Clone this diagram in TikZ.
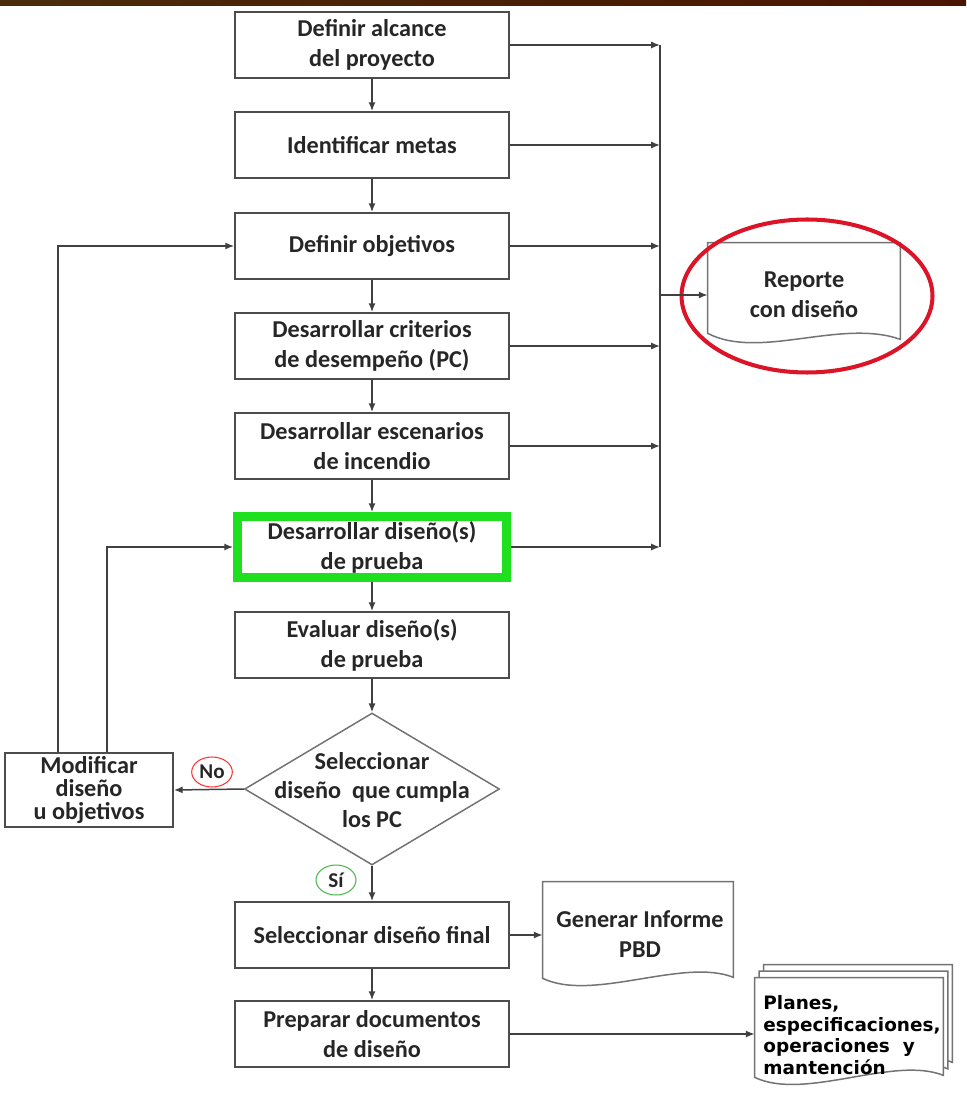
\documentclass[tikz,border=0pt]{standalone}
\usepackage{fontspec}
\setmainfont{Carlito}
\newfontfamily\planfont{DejaVu Sans}
\usetikzlibrary{shapes.geometric,arrows.meta,calc}

\definecolor{barleft}{HTML}{4A2C0A}
\definecolor{barright}{HTML}{4A1402}
\definecolor{boxgreen}{HTML}{1EE01E}
\definecolor{ringred}{HTML}{DC1428}

\tikzset{
  stepbox/.style={draw=black!70, line width=1pt, fill=white, minimum width=5.48cm,
    minimum height=1.32cm, align=center, inner sep=1pt, text=black!85,
    font=\bfseries\fontsize{13.8}{17}\selectfont},
  flow/.style={draw=black!75, line width=0.85pt, -{Latex[length=5pt,width=4pt]}},
  busline/.style={draw=black!75, line width=0.85pt},
  docline/.style={draw=black!55, line width=0.85pt, fill=white},
  answer/.style={ellipse, line width=0.6pt, inner sep=1pt, minimum width=0.8cm,
    minimum height=0.6cm, text=black!85, font=\bfseries\fontsize{12}{14}\selectfont},
}

\begin{document}
\begin{tikzpicture}[x=0.02cm, y=-0.02cm]
    \useasboundingbox (0,0) rectangle (966,1097);

    % Top bar
    \shade[left color=barleft, right color=barright] (0,0) rectangle (966,6);

    % Main steps
    \node[stepbox] (alcance) at (372,45) {Definir alcance\\del proyecto};
    \node[stepbox] (metas) at (372,145) {Identificar metas};
    \node[stepbox] (objetivos) at (372,246) {Definir objetivos};
    \node[stepbox] (criterios) at (372,346) {Desarrollar criterios\\de desempeño (PC)};
    \node[stepbox] (escenarios) at (372,446) {Desarrollar escenarios\\de incendio};
    \node[stepbox, draw=boxgreen, line width=5pt, minimum width=5.38cm, minimum height=1.22cm] (prueba) at (372,547) {Desarrollar diseño(s)\\de prueba};
    \node[stepbox] (evaluar) at (372,645) {Evaluar diseño(s)\\de prueba};
    \node[diamond, draw=black!55, line width=0.85pt, minimum width=5.1cm, minimum height=3.04cm, inner sep=0pt] (cumple) at (372,789) {};
    \node[align=center, text=black!85, font=\bfseries\fontsize{13.8}{16.5}\selectfont] (cumpletxt) at (372,790) {Seleccionar\\diseño\ \ que cumpla\\los PC};
    \node[stepbox] (final) at (372,935) {Seleccionar diseño final};
    \node[stepbox] (preparar) at (372,1034) {Preparar documentos\\de diseño};
    \node[stepbox, minimum width=3.36cm, minimum height=1.48cm, font=\bfseries\fontsize{13.8}{13}\selectfont] (modificar) at (89,790) {Modificar\\diseño\\u objetivos};

    % Documents
    \node[minimum width=3.84cm, minimum height=2.08cm, align=center, text=black!85, font=\bfseries\fontsize{13.8}{17}\selectfont] (reporte) at (804,295) {};
    \node[minimum width=3.8cm, minimum height=2.04cm, align=center, text=black!85, font=\bfseries\fontsize{13.8}{17}\selectfont] (generar) at (638,933) {};
    \node[minimum width=3.76cm, minimum height=2.24cm, align=left, text=black, font=\planfont\bfseries\fontsize{10.5}{12.2}\selectfont] (planes) at (849,1034) {};

    \draw[docline] (reporte.north west) -- (reporte.north east) -- ($(reporte.south east)+(0,-8)$)
        .. controls +(-60,-21) and +(52,27) .. ($(reporte.south west)+(0,-14)$) -- cycle;
    \draw[docline] (generar.north west) -- (generar.north east) -- ($(generar.south east)+(0,-7)$)
        .. controls +(-50,-20) and +(50,24) .. ($(generar.south west)+(0,-6)$) -- cycle;
    \foreach \dx/\dy in {9/-13, 4.5/-6.5} {
        \draw[docline] ($(planes.north west)+(\dx,\dy)$) -- ($(planes.north east)+(\dx,\dy)$) -- ($(planes.south east)+(\dx,\dy-15)$)
            .. controls +(-50,-20) and +(50,24) .. ($(planes.south west)+(\dx,\dy-13)$) -- cycle;
    }
    \draw[docline] (planes.north west) -- (planes.north east) -- ($(planes.south east)+(0,-15)$)
        .. controls +(-50,-20) and +(50,24) .. ($(planes.south west)+(0,-13)$) -- cycle;

    \node[align=center, text=black!85, font=\bfseries\fontsize{13.8}{17}\selectfont] (reportetxt) at (804,295) {Reporte\\con diseño};
    \node[align=center, text=black!85, font=\bfseries\fontsize{13.8}{17}\selectfont] (generartxt) at (640,934) {Generar Informe\\PBD};
    \node[align=left, text=black, font=\planfont\bfseries\fontsize{10.5}{12.2}\selectfont] (planestxt) at (852,1035) {Planes,\\especificaciones,\\operaciones\ \ y\\mantención};

    % Highlight ring
    \node[ellipse, draw=ringred, line width=2.3pt, minimum width=5.02cm, minimum height=3.06cm] (ring) at (807,296) {};

    % Sequence arrows
    \foreach \a/\b in {alcance/metas, metas/objetivos, objetivos/criterios, criterios/escenarios,
                       escenarios/prueba, prueba/evaluar, evaluar/cumple, cumple/final, final/preparar} {
        \draw[flow] (\a.south) -- (\b.north);
    }

    % Output bus to the report
    \coordinate (bustop) at (660,0);
    \foreach \n/\src in {1/alcance, 2/metas, 3/objetivos, 4/criterios, 5/escenarios, 6/prueba} {
        \coordinate (bus\n) at (\src.east -| bustop);
        \draw[flow] (\src.east) -- (bus\n);
    }
    \draw[busline] (bus1) -- (bus6);
    \draw[flow] (reporte.west -| bustop) -- (reporte.west);

    % Decision outcomes
    \draw[flow] (cumple.west) -- (modificar.east);
    \node[answer, draw=red!80] (no) at (212,772) {No};
    \node[answer, draw=green!60!black!70] (si) at (336,880) {Sí};

    % Feedback loops
    \draw[flow] ($(modificar.north)+(-31,0)$) |- (objetivos.west);
    \draw[flow] ($(modificar.north)+(18,0)$) |- (prueba.west);

    % Final outputs
    \draw[flow] (final.east) -- (final.east -| generar.west);
    \draw[flow] (preparar.east) -- (preparar.east -| planes.west);
\end{tikzpicture}
\end{document}
